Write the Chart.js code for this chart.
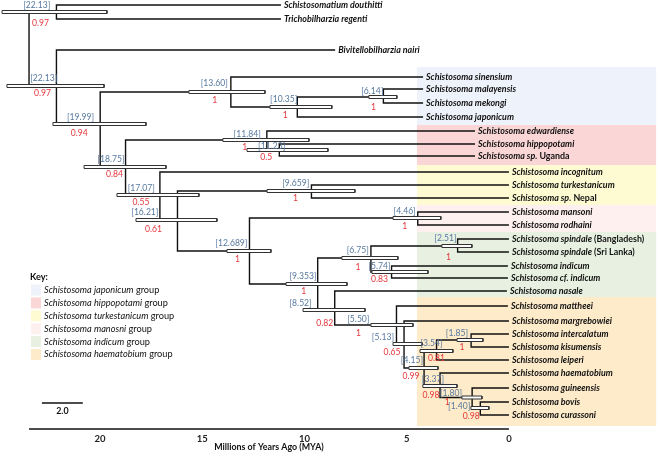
<!DOCTYPE html>
<html><head><meta charset="utf-8">
<script src="https://cdn.jsdelivr.net/npm/chart.js@4.4.1/dist/chart.umd.min.js"></script>
<style>html,body{margin:0;padding:0;background:#fff;overflow:hidden}</style>
</head><body>
<canvas id="c" width="658" height="456"></canvas>
<script>
// ---------------- DATA ----------------
const taxa = [
 'Schistosomatium douthitti','Trichobilharzia regenti','Bivitellobilharzia nairi',
 'Schistosoma sinensium','Schistosoma malayensis','Schistosoma mekongi','Schistosoma japonicum',
 'Schistosoma edwardiense','Schistosoma hippopotami','Schistosoma sp. Uganda',
 'Schistosoma incognitum','Schistosoma turkestanicum','Schistosoma sp. Nepal',
 'Schistosoma mansoni','Schistosoma rodhaini',
 'Schistosoma spindale (Bangladesh)','Schistosoma spindale (Sri Lanka)','Schistosoma indicum',
 'Schistosoma cf. indicum','Schistosoma nasale',
 'Schistosoma mattheei','Schistosoma margrebowiei','Schistosoma intercalatum','Schistosoma kisumensis',
 'Schistosoma leiperi','Schistosoma haematobium','Schistosoma guineensis','Schistosoma bovis','Schistosoma curassoni'];
// vertical position of each tip on the tree axis (0 = top, 429 = time axis)
const tipRow = [5,19,50,77,89,103,117,131,144,156,172,185,198,212,225,239,252,266,278,291,306,321,334,347,360,373,388,402,415];
// age (MYA) where each tip branch ends
const tipEnd = [11.15,11.15,8.5,4.2,4.2,4.2,4.2,1.66,1.66,1.66,0,0,0,0,0,0,0,0.05,0.05,0.1,0.05,0,0,0,0,0,0,0,0];

const nodeName    = ['root','A','B','C','D','E','F','G','I','J','H','K','L','M','N','O','P','S','T','Q','R','U','V','W','Y','X','Z','AA'];
const nodeAgeText = ['','22.13','22.13','19.99','18.75','13.60','10.35','6.14','11.84','11.23','17.07','16.21','9.659','12.689','4.46','9.353','6.75','2.51','5.74','8.52','5.50','5.13','4.15','3.54','1.85','3.37','1.80','1.40'];
const rootAge = 23.47;
const nodeRow = [49,12,86,124,167,92,107,97,140,150,195,220,191,251,218,284,258,246,272,310,325,344,368,351,340,386,397.5,408];
const nodeChildren = [['A','B'],[0,1],[2,'C'],['E','D'],['I','H'],[3,'F'],['G',6],[4,5],[7,'J'],[8,9],[10,'K'],['L','M'],[11,12],['N','O'],[13,14],['P','Q'],['S','T'],[15,16],[17,18],[19,'R'],[20,'U'],[21,'V'],['W','X'],['Y',24],[22,23],[25,'Z'],[26,'AA'],[27,28]];
const hpdOld   = [null,24.79,24.55,22.30,20.78,15.65,11.69,6.85,13.99,12.81,19.17,18.24,11.83,13.79,5.67,10.90,8.17,3.28,6.70,10.07,6.75,5.67,4.89,4.35,2.54,4.21,2.30,1.86];
const hpdYoung = [null,19.66,19.80,17.75,16.77,11.93,8.66,5.48,9.78,8.85,15.16,14.28,7.53,11.64,3.33,7.92,5.43,1.81,3.96,7.04,4.69,4.25,3.47,2.74,1.27,2.54,1.32,0.98];
const posterior = ['','0.97','0.97','0.94','0.84','1','1','1','1','0.5','0.55','0.61','1','1','1','1','1','1','0.83','0.82','1','0.65','0.99','0.81','1','0.98','1','0.98'];

const groupNames  = ['japonicum','hippopotami','turkestanicum','manosni','indicum','haematobium'];
const groupTop    = [67,125,165,205,232,297];
const groupBottom = [125,165,205,232,297,426];
const groupFrom = 4.5, groupTo = -7.2;

const tickValues = [20,15,10,5,0];
const scaleBarStart = 22.84, scaleBarLength = 2.0;

// ---------------- STYLE / LAYOUT ----------------
const groupColors = ['#eef2fa','#fbd6d6','#fefbd3','#fdf0ee','#e8f1e1','#fdebca'];
const X_LEFT = 24.89, X_RIGHT = -7.29, Y_MAX = 429;
const BOX_H = 1.5;
const FONT = 'Lato';
const FS = 8.6, FS_TIP = 8.9, FS_KEY = 9.2;
const AGE_COLOR = '#5779a0', POST_COLOR = '#e4363b';
// label offsets in px relative to node: [age label right edge dx, dy], [posterior centre dx, dy]
const ageOff  = [[0,0],[-6,-7],[1,-8],[-6,-7],[-1,-8],[-3,-9],[0,-8],[0,-6],[-6,-6],[6,-4],[-5,-7],[-19,-8],[-2,-8],[-2,-8],[-2,-7],[-1,-8],[-2,-8],[-1,-8],[-1,-6],[-23,-7],[-27,-6],[-10,-7],[-1,-8],[6,-8],[-3,-7],[4,-7],[-10,-4],[-10,-2]];
const postOff = [[0,0],[-16,11],[-14,7],[-21,9],[-11,7],[-16,8],[-12,8],[-10,10],[-22,7],[-13,7],[-19,7],[-24,9],[-16,7],[-12,8],[-13,8],[-14,7],[-13,9],[-9,11],[-12,7],[-10,13],[-38,8],[-12,8],[-13,8],[0,7],[-9,7],[-9,9],[-25,5],[-9,8]];

// ---------------- BUILD ----------------
const nodeAge = nodeAgeText.map((t,i)=> i===0 ? rootAge : parseFloat(t));
const idx = n => nodeName.indexOf(n);
const pos = c => typeof c === 'number' ? {x: tipEnd[c], y: tipRow[c]} : {x: nodeAge[idx(c)], y: nodeRow[idx(c)]};
const rect = (x1,x2,y1,y2) => [{x:x1,y:y1},{x:x2,y:y1},{x:x2,y:y2},{x:x1,y:y2},{x:x1,y:y1}];

const datasets = [];
// boxes (drawn on top of lines -> lower order)
nodeName.forEach((n,i)=>{
  if (hpdOld[i] == null) return;
  datasets.push({data: rect(hpdOld[i], hpdYoung[i], nodeRow[i]-BOX_H, nodeRow[i]+BOX_H),
    showLine:true, fill:'shape', backgroundColor:'#ffffff', borderColor:'#333333', borderWidth:1,
    pointRadius:0, order:1, clip:false});
});
// branches
nodeName.forEach((n,i)=>{
  nodeChildren[i].forEach(c=>{
    const p = pos(c);
    datasets.push({data:[{x:nodeAge[i],y:nodeRow[i]},{x:nodeAge[i],y:p.y},{x:p.x,y:p.y}],
      showLine:true, fill:false, borderColor:'#111', borderWidth:1.4, pointRadius:0, order:2, clip:false});
  });
});
// time axis line and scale bar
datasets.push({data:[{x:rootAge,y:Y_MAX},{x:0,y:Y_MAX}], showLine:true, fill:false, borderColor:'#111', borderWidth:1.6, pointRadius:0, order:2, clip:false});
datasets.push({data:[{x:scaleBarStart,y:403},{x:scaleBarStart-scaleBarLength,y:403}], showLine:true, fill:false, borderColor:'#111', borderWidth:1.6, pointRadius:0, order:2, clip:false});
// group backgrounds
groupNames.forEach((g,i)=>{
  datasets.push({data: rect(groupFrom, groupTo, groupTop[i], groupBottom[i]), showLine:true, fill:'shape',
    backgroundColor: groupColors[i], borderColor:'rgba(0,0,0,0)', borderWidth:1, pointRadius:0, order:9, clip:false});
});

function drawMixed(ctx, text, x, y, size, bold) {
  const words = text.split(' ');
  let upright = false;
  const parts = [];
  words.forEach((w,k)=>{
    if (k>0 && (/^[A-Z(]/.test(w))) upright = true;
    parts.push({t:(k>0?' ':'')+w, it: !upright});
  });
  parts.forEach(p=>{
    ctx.font = `${p.it?'italic ':''}${bold?'bold ':''}${size}px ${FONT}`;
    ctx.fillText(p.t, x, y);
    x += ctx.measureText(p.t).width;
  });
}

const textPlugin = {
  id:'treeText',
  afterDraw(chart){
    const ctx = chart.ctx, X = chart.scales.x, Y = chart.scales.y;
    ctx.save();
    ctx.textBaseline = 'middle';
    // tip names
    ctx.fillStyle = '#111'; ctx.textAlign = 'left';
    taxa.forEach((name,i)=>{
      drawMixed(ctx, name, X.getPixelForValue(tipEnd[i]) + 3, Y.getPixelForValue(tipRow[i]), FS_TIP, true);
    });
    // node ages and posteriors
    nodeName.forEach((n,i)=>{
      if (!nodeAgeText[i]) return;
      const x = X.getPixelForValue(nodeAge[i]), y = Y.getPixelForValue(nodeRow[i]);
      ctx.font = `${FS}px ${FONT}`;
      ctx.fillStyle = AGE_COLOR; ctx.textAlign = 'right';
      ctx.fillText('[' + nodeAgeText[i] + ']', x + ageOff[i][0], y + ageOff[i][1]);
      ctx.fillStyle = POST_COLOR; ctx.textAlign = 'center';
      ctx.fillText(posterior[i], x + postOff[i][0], y + postOff[i][1]);
    });
    // legend
    ctx.textAlign = 'left'; ctx.fillStyle = '#111';
    ctx.font = `bold ${FS_KEY}px ${FONT}`;
    ctx.fillText('Key:', 30, Y.getPixelForValue(277));
    groupNames.forEach((g,i)=>{
      const y = Y.getPixelForValue(290 + i*12.9);
      ctx.fillStyle = groupColors[i];
      ctx.fillRect(31, y-5.5, 10, 11);
      ctx.fillStyle = '#111';
      ctx.font = `italic ${FS_KEY}px ${FONT}`;
      const t = 'Schistosoma ' + g;
      ctx.fillText(t, 44, y);
      const w = ctx.measureText(t).width;
      ctx.font = `${FS_KEY}px ${FONT}`;
      ctx.fillText(' group', 44 + w, y);
    });
    // scale bar label
    ctx.font = `bold ${FS_TIP}px ${FONT}`; ctx.textAlign = 'center';
    ctx.fillText(scaleBarLength.toFixed(1), X.getPixelForValue(scaleBarStart - scaleBarLength/2), Y.getPixelForValue(411));
    // axis title
    ctx.fillText('Millions of Years Ago (MYA)', (X.getPixelForValue(rootAge) + X.getPixelForValue(0))/2, 447);
    ctx.restore();
  }
};

new Chart(document.getElementById('c'), {
  type:'scatter',
  data:{datasets},
  options:{
    responsive:false, animation:false, devicePixelRatio:1,
    layout:{padding:0},
    plugins:{legend:{display:false}, tooltip:{enabled:false}, title:{display:false}},
    elements:{point:{radius:0}, line:{tension:0}},
    scales:{
      x:{type:'linear', reverse:true, min:X_RIGHT, max:X_LEFT,
        grid:{display:false, drawTicks:false}, border:{display:false},
        afterBuildTicks: s => { s.ticks = tickValues.map(v=>({value:v})); },
        afterFit: s => { s.height = 456 - Y_MAX; },
        ticks:{padding:4, color:'#222', autoSkip:false, maxRotation:0, font:{family:FONT, size:9.5, weight:'bold'},
          callback: v => String(v)}},
      y:{type:'linear', reverse:true, min:0, max:Y_MAX, display:false}
    }
  },
  plugins:[textPlugin]
});
</script>
</body></html>
